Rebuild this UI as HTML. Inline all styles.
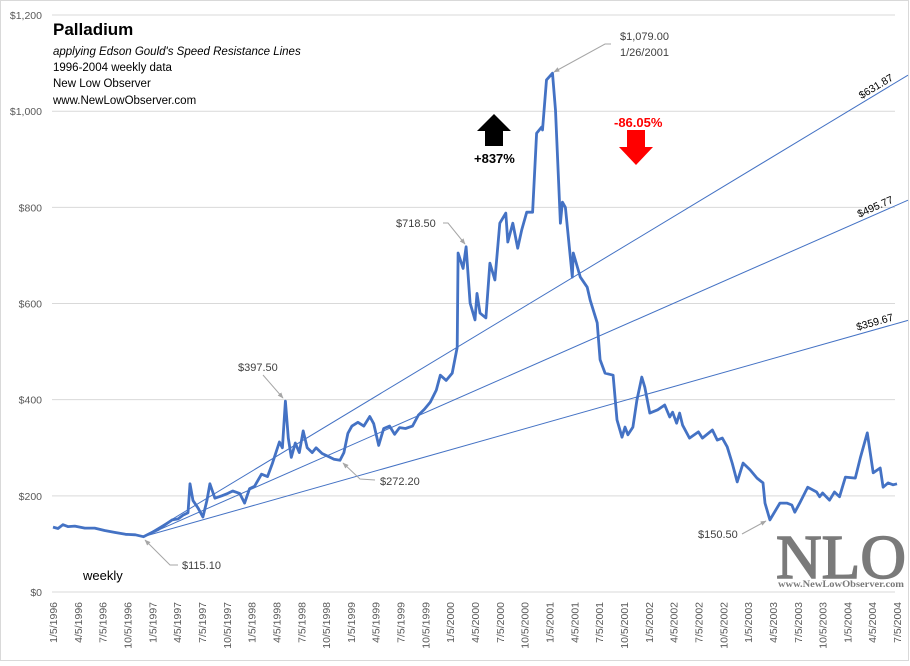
<!DOCTYPE html>
<html><head><meta charset="utf-8"><style>
body{margin:0;background:#fff;font-family:"Liberation Sans",sans-serif}
svg text{font-family:"Liberation Sans",sans-serif}
</style></head><body>
<svg id="c" width="910" height="661">
<defs><marker id="ah" viewBox="0 0 10 10" refX="9" refY="5" markerWidth="6" markerHeight="6" orient="auto"><path d="M0 1 L10 5 L0 9 z" fill="#a6a6a6"/></marker></defs>
<rect x="0.5" y="0.5" width="908" height="660" fill="#fff" stroke="#d9d9d9"/>
<g id="grid"></g><g id="yaxis"></g><g id="xaxis"></g><g id="speed"></g><g id="series"></g>
<g>
<text x="53" y="35" font-size="17" font-weight="bold" fill="#000">Palladium</text>
<text x="53" y="55" font-size="11.5" font-style="italic">applying Edson Gould's Speed Resistance Lines</text>
<text x="53" y="71" font-size="11.5">1996-2004 weekly data</text>
<text x="53" y="87" font-size="11.5">New Low Observer</text>
<text x="53" y="104" font-size="11.5">www.NewLowObserver.com</text>
</g>
<text x="83" y="580" font-size="13">weekly</text>
<g font-size="11" fill="#404040">
<text x="238" y="371">$397.50</text>
<line x1="263" y1="375" x2="283" y2="398" stroke="#a6a6a6" marker-end="url(#ah)"/>
<text x="380" y="485">$272.20</text>
<path d="M375 480 L360 479 L343 463" fill="none" stroke="#a6a6a6" marker-end="url(#ah)"/>
<text x="182" y="569">$115.10</text>
<path d="M178 565 L170 565 L145 540" fill="none" stroke="#a6a6a6" marker-end="url(#ah)"/>
<text x="396" y="227">$718.50</text>
<path d="M443 223 L448 223 L465 244" fill="none" stroke="#a6a6a6" marker-end="url(#ah)"/>
<text x="620" y="40">$1,079.00</text>
<text x="620" y="56">1/26/2001</text>
<path d="M611 44 L605 44 L554 72" fill="none" stroke="#a6a6a6" marker-end="url(#ah)"/>
<text x="698" y="538">$150.50</text>
<line x1="742" y1="534" x2="766" y2="521" stroke="#a6a6a6" marker-end="url(#ah)"/>
</g>
<g><polygon points="494,114 477,131 485,131 485,146 503,146 503,131 511,131" fill="#000"/></g>
<text x="474" y="163" font-size="13" font-weight="bold">+837%</text>
<text x="614" y="127" font-size="13" font-weight="bold" fill="#f00">-86.05%</text>
<g><polygon points="627,130 645,130 645,147 653,147 636,165 619,147 627,147" fill="#f00"/></g>
<g>
<text x="776" y="578" font-size="62" fill="#7a7a7a" stroke="#7a7a7a" stroke-width="1.5" style="font-family:'Liberation Serif',serif" textLength="130" lengthAdjust="spacingAndGlyphs">NLO</text>
<text x="778" y="587" font-size="9" font-weight="bold" fill="#7a7a7a" style="font-family:'Liberation Serif',serif" textLength="126" lengthAdjust="spacingAndGlyphs">www.NewLowObserver.com</text>
</g>
</svg>
<script>
const dates=[0,.05,.10,.15,.22,.32,.42,.52,.62,.73,.83,.91,.98,1.06,1.13,1.20,1.26,1.31,1.36,1.38,1.41,1.46,1.51,1.55,1.58,1.63,1.70,1.76,1.81,1.88,1.93,1.98,2.03,2.10,2.16,2.21,2.28,2.31,2.34,2.37,2.40,2.44,2.48,2.52,2.56,2.61,2.65,2.71,2.77,2.83,2.89,2.93,2.97,3.01,3.07,3.13,3.19,3.23,3.28,3.33,3.39,3.44,3.49,3.55,3.62,3.68,3.74,3.80,3.86,3.90,3.96,4.02,4.07,4.08,4.13,4.16,4.20,4.25,4.27,4.30,4.36,4.40,4.45,4.50,4.56,4.58,4.63,4.68,4.72,4.77,4.83,4.87,4.92,4.93,4.97,5.03,5.06,5.11,5.13,5.16,5.23,5.24,5.31,5.38,5.41,5.48,5.51,5.56,5.64,5.68,5.73,5.76,5.79,5.84,5.88,5.93,5.96,6.01,6.09,6.16,6.21,6.24,6.28,6.31,6.34,6.41,6.50,6.54,6.64,6.69,6.74,6.79,6.84,6.89,6.95,7.02,7.09,7.15,7.17,7.22,7.32,7.39,7.44,7.47,7.52,7.60,7.69,7.72,7.75,7.82,7.87,7.92,7.98,8.08,8.13,8.20,8.26,8.33,8.36,8.41,8.46,8.50];
const prices=[135,132,140,136,137,133,133,128,124,120,119,115,122,130,140,150,152,160,165,225,190,175,156,190,225,195,200,205,210,205,185,215,220,245,240,268,312,300,397,320,280,310,290,335,300,290,300,288,282,276,274,290,330,345,353,345,365,350,305,340,345,328,342,340,345,368,380,395,420,451,440,455,509,705,673,718,601,566,621,580,570,684,649,767,788,728,767,715,753,790,790,954,967,961,1065,1079,1002,767,811,800,655,705,655,634,607,560,483,455,451,358,322,343,327,343,399,447,426,372,379,389,364,374,351,372,347,320,333,320,337,316,320,302,268,229,268,254,237,227,185,150,185,185,181,166,185,218,208,198,206,191,208,198,239,237,279,331,248,258,218,227,223,225];
const yTicks=[0,200,400,600,800,1000,1200];
const yTickLabels=["$0","$200","$400","$600","$800","$1,000","$1,200"];
const xTickLabels=["1/5/1996","4/5/1996","7/5/1996","10/5/1996","1/5/1997","4/5/1997","7/5/1997","10/5/1997","1/5/1998","4/5/1998","7/5/1998","10/5/1998","1/5/1999","4/5/1999","7/5/1999","10/5/1999","1/5/2000","4/5/2000","7/5/2000","10/5/2000","1/5/2001","4/5/2001","7/5/2001","10/5/2001","1/5/2002","4/5/2002","7/5/2002","10/5/2002","1/5/2003","4/5/2003","7/5/2003","10/5/2003","1/5/2004","4/5/2004","7/5/2004"];
const speedStart=[0.91,115.1];
const speedEndDate=8.61;
const speedEndValues=[1075,815,565];
const speedLabels=["$631.87","$495.77","$359.67"];
const NS="http://www.w3.org/2000/svg";
const X=d=>53+d*99.3, Y=v=>592-v*0.4808;
function mk(t,a,p){const e=document.createElementNS(NS,t);for(const k in a)e.setAttribute(k,a[k]);p.appendChild(e);return e;}
const g=document.getElementById('grid'),ya=document.getElementById('yaxis'),xa=document.getElementById('xaxis');
yTicks.forEach((v,i)=>{
 const l=mk('line',{x1:52,x2:895,y1:Y(v),y2:Y(v),stroke:'#d9d9d9'},g);
 
 
 const t=mk('text',{x:42,y:Y(v)+4,'font-size':10.5,fill:'#595959','text-anchor':'end'},ya);
 t.textContent=yTickLabels[i];
 
 
});
xTickLabels.forEach((s,i)=>{
 const x=X(i*0.25);
 const t=mk('text',{x:0,y:0,'font-size':10.5,fill:'#595959','text-anchor':'end',transform:`translate(${x+4},602) rotate(-90)`},xa);
 t.textContent=s;
 
 
});
const sp=document.getElementById('speed');
speedEndValues.forEach((v,i)=>{
 const x1=X(speedStart[0]),y1=Y(speedStart[1]),x2=X(speedEndDate),y2=Y(v);
 const l=mk('line',{x1,y1,x2,y2,stroke:'#4472c4','stroke-width':1},sp);
 
 
 const ang=Math.atan2(y2-y1,x2-x1)*180/Math.PI;
 const lx=x2-14, ly=y2+(y1-y2)*14/(x2-x1)-4;
 const t=mk('text',{x:0,y:0,'font-size':10.5,fill:'#000','text-anchor':'end',transform:`translate(${lx},${ly}) rotate(${ang})`},sp);
 t.textContent=speedLabels[i];
 
 
});
const p=mk('path',{d:dates.map((d,i)=>(i?'L':'M')+X(d).toFixed(1)+' '+Y(prices[i]).toFixed(1)).join(' '),fill:'none',stroke:'#4472c4','stroke-width':2.8,'stroke-linejoin':'round'},document.getElementById('series'));


</script>
</body></html>
